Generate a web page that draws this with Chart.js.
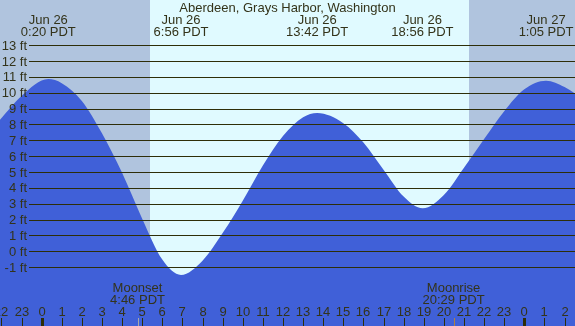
<!DOCTYPE html>
<html lang="en">
<head>
    <meta charset="UTF-8">
    <title>Aberdeen, Grays Harbor, Washington</title>
    <script src="https://cdn.jsdelivr.net/npm/chart.js"></script>
    <style>
        html, body { margin: 0; padding: 0; background: #4060d8; overflow: hidden; }
        #tideChart { display: block; }
    </style>
</head>
<body>
    <canvas id="tideChart" width="575" height="326"></canvas>

    <script>
        // tide curve, hours from midnight Jun 26 (negative = Jun 25, >24 = Jun 27)
        const tideHours = [-2.07, -1, 0.33, 1, 2, 3, 4, 5, 6, 6.93, 8, 9, 10, 11, 12, 13, 13.7, 15, 16, 17, 18, 18.95, 20, 21, 22, 23, 24, 25.08, 26, 26.52];
        const tideFeet  = [8.3, 9.8, 10.86, 10.6, 9.48, 7.44, 4.95, 2.06, -0.52, -1.49, -0.59, 1.15, 3.19, 5.41, 7.27, 8.45, 8.72, 8.08, 6.86, 5.14, 3.45, 2.71, 3.55, 5.27, 7.08, 8.84, 10.22, 10.76, 10.36, 9.96];

        // high / low labels across the top
        const extremeHours = [0.333, 6.933, 13.7, 18.933, 25.083];
        const extremeDates = ["Jun 26", "Jun 26", "Jun 26", "Jun 26", "Jun 27"];
        const extremeTimes = ["0:20 PDT", "6:56 PDT", "13:42 PDT", "18:56 PDT", "1:05 PDT"];

        // sun and moon
        const sunrise = 5.385;
        const sunset = 21.25;
        const moonEvents = [
            { hour: 4.767, name: "Moonset", time: "4:46 PDT", color: "#a8a8a8" },
            { hour: 20.483, name: "Moonrise", time: "20:29 PDT", color: "#b08040" }
        ];

        // axis ticks
        const footTicks = [13, 12, 11, 10, 9, 8, 7, 6, 5, 4, 3, 2, 1, 0, -1];
        const hourTicks = [-2, -1, 0, 1, 2, 3, 4, 5, 6, 7, 8, 9, 10, 11, 12, 13, 14, 15, 16, 17, 18, 19, 20, 21, 22, 23, 24, 25, 26];

        const title = "Aberdeen, Grays Harbor, Washington";

        const textColor = "#33331a";
        const lineColor = "#2e2e08";
        const font = "13px 'Liberation Sans', Arial, sans-serif";

        const bandsPlugin = {
            id: 'bands',
            beforeDatasetsDraw(chart) {
                const c = chart.ctx;
                const x = chart.scales.x;
                const w = chart.width, h = chart.height;
                const xr = Math.round(x.getPixelForValue(sunrise));
                const xs = Math.round(x.getPixelForValue(sunset));
                c.save();
                c.fillStyle = "#b0c4de";
                c.fillRect(0, 0, w, h);
                c.fillStyle = "#e0faff";
                c.fillRect(xr, 0, xs - xr, h);
                c.restore();
            }
        };

        const labelsPlugin = {
            id: 'labels',
            afterDatasetsDraw(chart) {
                const c = chart.ctx;
                const x = chart.scales.x;
                const y = chart.scales.y;
                const w = chart.width, h = chart.height;
                c.save();

                // height lines
                c.strokeStyle = lineColor;
                c.lineWidth = 1;
                footTicks.forEach(ft => {
                    const py = Math.round(y.getPixelForValue(ft)) + 0.5;
                    c.beginPath();
                    c.moveTo(29, py);
                    c.lineTo(w, py);
                    c.stroke();
                });

                c.font = font;
                c.fillStyle = textColor;

                // left labels
                c.textAlign = "right";
                c.textBaseline = "alphabetic";
                footTicks.forEach(ft => {
                    const py = y.getPixelForValue(ft);
                    c.fillText(ft + " ft", 27, py + 4.5);
                });

                // title and extremes
                c.textAlign = "center";
                c.fillText(title, w / 2, 12);
                extremeHours.forEach((hr, i) => {
                    const px = x.getPixelForValue(hr);
                    c.fillText(extremeDates[i], px, 24);
                    c.fillText(extremeTimes[i], px, 36);
                });

                // hour labels and ticks
                hourTicks.forEach(hr => {
                    const px = Math.round(x.getPixelForValue(hr));
                    const lbl = ((hr % 24) + 24) % 24;
                    c.fillStyle = textColor;
                    c.fillText(String(lbl), px, 315.5);
                    c.fillStyle = lineColor;
                    if (lbl === 0) {
                        c.fillRect(px - 1, 318, 3, h - 318);
                    } else {
                        c.fillRect(px, 318, 1, h - 318);
                    }
                });

                // moon
                moonEvents.forEach(m => {
                    const px = x.getPixelForValue(m.hour);
                    c.fillStyle = textColor;
                    c.fillText(m.name, px, 292);
                    c.fillText(m.time, px, 304);
                    c.fillStyle = m.color;
                    c.fillRect(Math.round(px), 318, 1, h - 318);
                });

                c.restore();
            }
        };

        const ctx = document.getElementById('tideChart').getContext('2d');
        new Chart(ctx, {
            type: 'line',
            data: {
                datasets: [{
                    data: tideHours.map((hr, i) => ({ x: hr, y: tideFeet[i] })),
                    borderWidth: 0,
                    borderColor: 'rgba(0,0,0,0)',
                    backgroundColor: '#4060d8',
                    fill: 'start',
                    pointRadius: 0,
                    cubicInterpolationMode: 'monotone'
                }]
            },
            options: {
                responsive: false,
                devicePixelRatio: 1,
                animation: false,
                layout: { padding: 0 },
                plugins: {
                    legend: { display: false },
                    tooltip: { enabled: false }
                },
                scales: {
                    x: { type: 'linear', min: -2.07, max: 26.52, display: false },
                    y: { min: -4.71, max: 15.85, display: false }
                }
            },
            plugins: [bandsPlugin, labelsPlugin]
        });
    </script>
</body>
</html>
